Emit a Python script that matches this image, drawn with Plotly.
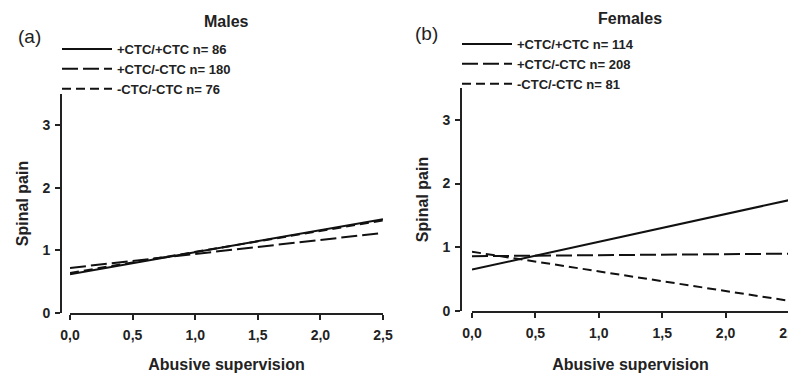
import plotly.graph_objects as go

x_vals = [0.0, 2.5]
male_pp = [0.62, 1.50]
male_pm = [0.72, 1.28]
male_mm = [0.64, 1.48]
female_pp = [0.65, 1.74]
female_pm = [0.86, 0.90]
female_mm = [0.93, 0.16]

male_names = ["+CTC/+CTC n= 86", "+CTC/-CTC n= 180", "-CTC/-CTC n= 76"]
female_names = ["+CTC/+CTC n= 114", "+CTC/-CTC n= 208", "-CTC/-CTC n= 81"]

x_tickvals = [0.0, 0.5, 1.0, 1.5, 2.0, 2.5]
x_ticktext = ["0,0", "0,5", "1,0", "1,5", "2,0", "2,5"]
y_tickvals = [0, 1, 2, 3]
y_ticktext = ["0", "1", "2", "3"]

# page is 796x373, body has 8px default margin -> figure sits at (8, 8)
OFF = 8
PAGE_W, PAGE_H = 796, 373
W, H = PAGE_W - OFF, PAGE_H - OFF
FONT = "Liberation Sans, Arial, sans-serif"
dashes = ["solid", "16px,5px", "9px,5px"]

fig = go.Figure()
for vals, name, dash in zip([male_pp, male_pm, male_mm], male_names, dashes):
    fig.add_trace(go.Scatter(x=x_vals, y=vals, mode="lines", name=name,
                             line=dict(color="#111111", width=2, dash=dash),
                             xaxis="x", yaxis="y", legend="legend"))
for vals, name, dash in zip([female_pp, female_pm, female_mm], female_names, dashes):
    fig.add_trace(go.Scatter(x=x_vals, y=vals, mode="lines", name=name,
                             line=dict(color="#111111", width=2, dash=dash),
                             xaxis="x2", yaxis="y2", legend="legend2"))

def px_x(p):
    return (p - OFF) / W

def px_y(p):
    return (PAGE_H - p) / H

tickfont = dict(family=FONT, size=14, color="#222222", weight="bold")
titlefont = dict(family=FONT, size=16, color="#222222", weight="bold")

common_x = dict(range=[0, 2.5], tickvals=x_tickvals, ticktext=x_ticktext,
                showgrid=False, zeroline=False, showline=True, linewidth=2,
                linecolor="#222222", ticks="outside", ticklen=5, tickwidth=2,
                tickcolor="#222222", tickfont=tickfont, automargin=False,
                ticklabelstandoff=3, ticklabeloverflow="allow",
                title=dict(text="Abusive supervision", font=titlefont, standoff=19))
common_y = dict(range=[0, 3.5], tickvals=y_tickvals, ticktext=y_ticktext,
                showgrid=False, zeroline=False, showline=True, linewidth=2,
                linecolor="#222222", ticks="outside", ticklen=5, tickwidth=2,
                tickcolor="#222222", tickfont=tickfont, automargin=False,
                ticklabelstandoff=2,
                title=dict(text="Spinal pain", font=titlefont, standoff=9))

legfont = dict(family=FONT, size=13, color="#222222", weight="bold")

fig.update_layout(
    width=W, height=H,
    margin=dict(l=0, r=0, t=0, b=0, autoexpand=False),
    plot_bgcolor="white", paper_bgcolor="white",
    xaxis=dict(domain=[px_x(70), px_x(383)], anchor="y", **common_x),
    yaxis=dict(domain=[px_y(313), px_y(94)], anchor="free", position=px_x(61), **common_y),
    xaxis2=dict(domain=[px_x(472), px_x(789)], anchor="y2", **common_x),
    yaxis2=dict(domain=[px_y(311), px_y(88)], anchor="free", position=px_x(461), **common_y),
    legend=dict(x=px_x(57), y=px_y(34), xanchor="left", yanchor="top",
                font=legfont, bgcolor="rgba(0,0,0,0)", itemwidth=50, tracegroupgap=0),
    legend2=dict(x=px_x(457), y=px_y(29), xanchor="left", yanchor="top",
                 font=legfont, bgcolor="rgba(0,0,0,0)", itemwidth=50, tracegroupgap=0),
    annotations=[
        dict(text="Males", x=px_x(227), y=px_y(22), xref="paper", yref="paper",
             xanchor="center", yanchor="middle", showarrow=False,
             font=dict(family=FONT, size=16, color="#222222", weight="bold")),
        dict(text="(a)", x=px_x(29), y=px_y(36), xref="paper", yref="paper",
             xanchor="center", yanchor="middle", showarrow=False,
             font=dict(family=FONT, size=19, color="#222222")),
        dict(text="Females", x=px_x(630), y=px_y(19), xref="paper", yref="paper",
             xanchor="center", yanchor="middle", showarrow=False,
             font=dict(family=FONT, size=16, color="#222222", weight="bold")),
        dict(text="(b)", x=px_x(426), y=px_y(33), xref="paper", yref="paper",
             xanchor="center", yanchor="middle", showarrow=False,
             font=dict(family=FONT, size=19, color="#222222")),
    ],
)

fig.write_html("out.html")
